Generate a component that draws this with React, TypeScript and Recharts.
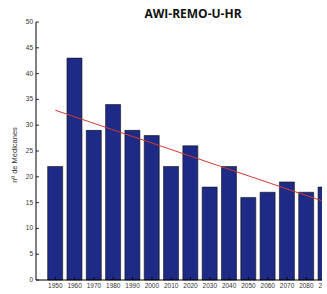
import { ComposedChart, Bar, Line, XAxis, YAxis } from 'recharts'

const years = [1950, 1960, 1970, 1980, 1990, 2000, 2010, 2020, 2030, 2040, 2050, 2060, 2070, 2080, 2090]
const medicanes = [22, 43, 29, 34, 29, 28, 22, 26, 18, 22, 16, 17, 19, 17, 18]
// red trend line, read at both ends
const trend = [32.9, null, null, null, null, null, null, null, null, null, null, null, null, null, 15.1]
const yTicks = [0, 5, 10, 15, 20, 25, 30, 35, 40, 45, 50]

const data = years.map((year, i) => ({ year, count: medicanes[i], trend: trend[i] }))

const tickFont = { fontFamily: 'Liberation Sans, Arial, sans-serif', fontSize: 6.5, fill: '#333' }

function BottomTick(props: any) {
  const { x, y, payload } = props
  return (
    <g>
      <line x1={x} y1={y} x2={x} y2={y - 3} stroke="#000" strokeWidth={0.8} />
      <text x={x} y={y + 8} textAnchor="middle" {...tickFont}>{payload.value}</text>
    </g>
  )
}

function TopTick(props: any) {
  const { x, y } = props
  return <line x1={x} y1={y} x2={x} y2={y + 3} stroke="#000" strokeWidth={0.8} />
}

function LeftTick(props: any) {
  const { x, y, payload } = props
  return (
    <g>
      <line x1={x} y1={y} x2={x + 3} y2={y} stroke="#000" strokeWidth={0.8} />
      <text x={x - 3} y={y + 2} textAnchor="end" {...tickFont}>{payload.value}</text>
    </g>
  )
}

export default function App() {
  return (
    <div style={{ position: 'absolute', left: 0, top: 0, width: 327, height: 294, overflow: 'hidden', background: '#fff' }}>
      <div style={{ position: 'absolute', left: 0, top: 0, width: 322, height: 294, overflow: 'hidden' }}>
        <ComposedChart width={360} height={294} data={data} margin={{ top: 22, right: 15, bottom: 0, left: 0 }}>
          <XAxis
            dataKey="year"
            type="number"
            domain={[1940, 2100]}
            ticks={years}
            height={14}
            tickSize={0}
            tickMargin={0}
            tick={<BottomTick />}
            axisLine={{ stroke: '#000', strokeWidth: 1 }}
            interval={0}
          />
          <XAxis
            xAxisId="top"
            orientation="top"
            dataKey="year"
            type="number"
            domain={[1940, 2100]}
            ticks={years}
            height={0}
            tickSize={0}
            tickMargin={0}
            tick={<TopTick />}
            axisLine={{ stroke: '#000', strokeWidth: 1 }}
            interval={0}
          />
          <YAxis
            domain={[0, 50]}
            ticks={yTicks}
            width={36}
            tickSize={0}
            tickMargin={0}
            tick={<LeftTick />}
            axisLine={{ stroke: '#000', strokeWidth: 1 }}
            interval={0}
          />
          <Bar dataKey="count" barSize={15} fill="#1d2a86" stroke="#111" strokeWidth={0.6} isAnimationActive={false} />
          <Line dataKey="trend" stroke="#d03a34" strokeWidth={1} dot={false} connectNulls isAnimationActive={false} />
        </ComposedChart>
      </div>
      <div style={{ position: 'absolute', left: 193, top: 13, transform: 'translate(-50%, -50%)', fontFamily: 'Open Sans, sans-serif', fontWeight: 700, fontSize: 12, color: '#111', whiteSpace: 'nowrap' }}>
        AWI-REMO-U-HR
      </div>
      <div style={{ position: 'absolute', left: 14, top: 155, transform: 'translate(-50%, -50%) rotate(-90deg)', fontFamily: 'Liberation Sans, Arial, sans-serif', fontSize: 7.5, color: '#333', whiteSpace: 'nowrap' }}>
        nº de Medicanes
      </div>
    </div>
  )
}
